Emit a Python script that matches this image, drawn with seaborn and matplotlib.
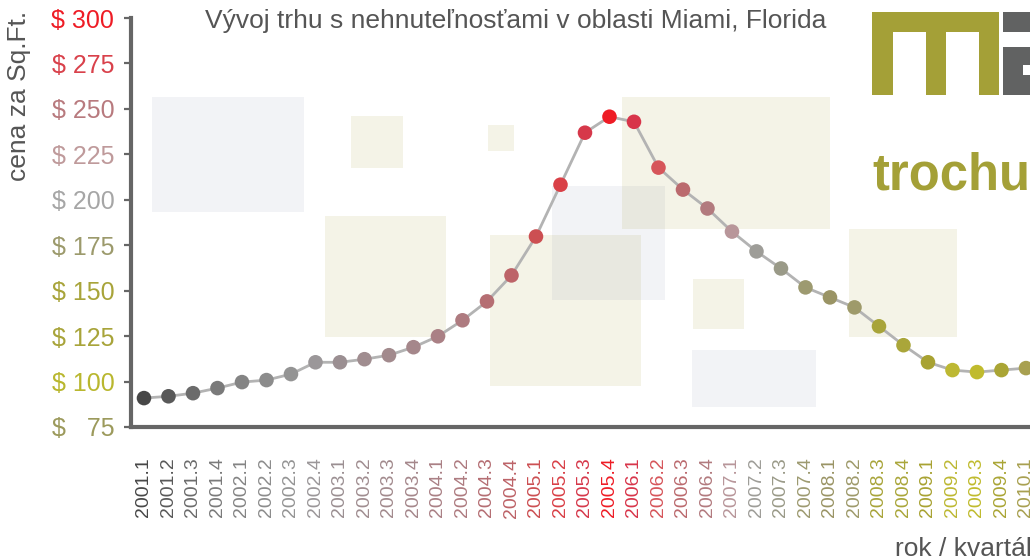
# plot.py
# Miami real estate price per square foot, quarterly 2001-2010, styled like the reference chart.

import numpy as np
import pandas as pd
import matplotlib
matplotlib.use("Agg")
import matplotlib.pyplot as plt
from matplotlib.patches import Rectangle
import seaborn as sns

# Quarter labels on the x axis.
quarters = [
    "2001.1", "2001.2", "2001.3", "2001.4", "2002.1", "2002.2", "2002.3", "2002.4",
    "2003.1", "2003.2", "2003.3", "2003.4", "2004.1", "2004.2", "2004.3", "2004.4",
    "2005.1", "2005.2", "2005.3", "2005.4", "2006.1", "2006.2", "2006.3", "2006.4",
    "2007.1", "2007.2", "2007.3", "2007.4", "2008.1", "2008.2", "2008.3", "2008.4",
    "2009.1", "2009.2", "2009.3", "2009.4", "2010.1",
]

# Price per square foot.
prices = [
    90.9, 91.9, 93.6, 96.4, 99.7, 100.8, 104.1, 110.6,
    110.6, 112.3, 114.5, 118.9, 124.9, 133.7, 144.1, 158.4,
    179.8, 208.3, 236.9, 245.7, 242.9, 217.7, 205.6, 195.2,
    182.5, 171.6, 162.2, 151.8, 146.3, 140.8, 130.4, 120.0,
    110.6, 106.3, 105.2, 106.3, 107.4,
]

# Colour of each point and its quarter label.
point_colors = [
    "#474747", "#595959", "#6b6b6b", "#7a7a7a", "#848484", "#8c8c8c", "#949494", "#9b9799",
    "#9b8f92", "#a08d90", "#a28a8d", "#a5878b", "#aa8085", "#ae7b80", "#b56e73", "#bd6368",
    "#cc4f52", "#d94047", "#d6384a", "#ee1c25", "#d8354a", "#d6555a", "#bb6a6e", "#b27a7e",
    "#b8969a", "#9e9d98", "#9a9a88", "#9d9a70", "#9a9465", "#9e9a6a", "#a8a43a", "#aaa63a",
    "#a8a232", "#bdb833", "#c0bb2e", "#aaa535", "#a8a050",
]

# Y axis ticks, their labels and label colours.
y_ticks = [75, 100, 125, 150, 175, 200, 225, 250, 275, 300]
y_tick_labels = ["$   75", "$ 100", "$ 125", "$ 150", "$ 175",
                 "$ 200", "$ 225", "$ 250", "$ 275", "$ 300"]
y_tick_colors = ["#9c9a5c", "#b9b72f", "#a8a43a", "#a8a43a", "#9c9a6c",
                 "#a6a6a6", "#bf9a9b", "#b87a7e", "#d9414b", "#ee1c25"]

title = "Vývoj trhu s nehnuteľnosťami v oblasti Miami, Florida"
y_label = "cena za Sq.Ft."
x_label = "rok / kvartál"
logo_text = "trochu"

# Build the data frame.
df = pd.DataFrame({"kvartal": quarters, "cena": prices})

# Style.
sns.set_style("white")
plt.rcParams["font.family"] = ["Liberation Sans", "DejaVu Sans"]

W, H = 1030, 556
fig = plt.figure(figsize=(W / 100, H / 100), dpi=100)

# Axes placed in pixel terms (runs a little past the right edge like the original).
ax_left, ax_right, ax_top, ax_bottom = 131, 1040, 18, 427
ax = fig.add_axes([ax_left / W, 1 - ax_bottom / H, (ax_right - ax_left) / W, (ax_bottom - ax_top) / H])
ax.patch.set_alpha(0)


def px_rect(x0, y0, x1, y1, color, alpha=1.0, z=-5):
    # Add a rectangle given in figure pixel coordinates (top-left origin).
    r = Rectangle((x0 / W, 1 - y1 / H), (x1 - x0) / W, (y1 - y0) / H,
                  transform=fig.transFigure, facecolor=color, edgecolor="none",
                  alpha=alpha, zorder=z)
    fig.add_artist(r)


# Decorative background squares.
beige = "#a5a03a"
bluegrey = "#78829f"
px_rect(152, 97, 304, 212, bluegrey, 0.09)
px_rect(325, 216, 446, 337, beige, 0.12)
px_rect(351, 116, 403, 168, beige, 0.12)
px_rect(488, 125, 514, 151, beige, 0.12)
px_rect(490, 235, 641, 386, beige, 0.12)
px_rect(552, 186, 665, 300, bluegrey, 0.09)
px_rect(622, 97, 830, 229, beige, 0.12)
px_rect(693, 279, 744, 329, beige, 0.12)
px_rect(692, 350, 816, 407, bluegrey, 0.09)
px_rect(849, 229, 957, 337, beige, 0.12)

# Logo blocks.
olive = "#a4a037"
grey = "#616262"
px_rect(872, 12, 999, 32, olive)
px_rect(872, 32, 893, 95, olive)
px_rect(926, 32, 946, 95, olive)
px_rect(979, 32, 999, 95, olive)
px_rect(1003, 12, 1031, 32, grey)
px_rect(1003, 47, 1031, 95, grey)
px_rect(1023, 65, 1031, 75, "white")

# Line connecting the points.
sns.lineplot(data=df, x="kvartal", y="cena", sort=False, color="#b3b3b3",
             linewidth=2, ax=ax, zorder=2)

# Coloured points.
sns.scatterplot(data=df, x="kvartal", y="cena", hue="kvartal",
                palette=dict(zip(quarters, point_colors)), s=110,
                edgecolor="none", legend=False, ax=ax, zorder=3)

# Axis limits.
n = len(quarters)
ax.set_xlim(-0.53, -0.53 + (ax_right - ax_left) / 24.5)
ax.set_ylim(75, 300)

# Spines.
for side in ["top", "right"]:
    ax.spines[side].set_visible(False)
for side in ["left", "bottom"]:
    ax.spines[side].set_color("#666666")
    ax.spines[side].set_linewidth(3)

# X ticks: labels at the points, tick marks between quarters.
ax.set_xticks(range(n))
ax.set_xticklabels(quarters, rotation=90, fontsize=14)
ax.set_xticks(np.arange(n) + 0.5, minor=True)
ax.tick_params(axis="x", which="major", length=0, pad=22)
ax.tick_params(axis="x", which="minor", length=7, width=1.6, color="#666666", direction="out")
for lab, col in zip(ax.get_xticklabels(), point_colors):
    lab.set_color(col)

# Y ticks.
ax.set_yticks(y_ticks)
ax.set_yticklabels(y_tick_labels, fontsize=18)
ax.tick_params(axis="y", which="major", length=5, width=1.6, color="#666666",
               direction="out", pad=7, left=True)
for lab, col in zip(ax.get_yticklabels(), y_tick_colors):
    lab.set_color(col)

ax.set_xlabel("")
ax.set_ylabel("")

# Texts.
fig.text(516 / W, 1 - 21 / H, title, ha="center", va="center", fontsize=19, color="#555555")
fig.text(19 / W, 1 - 96 / H, y_label, ha="center", va="center", rotation=90,
         fontsize=19, color="#555555")
fig.text(895 / W, 0.0, x_label, ha="left", va="baseline", fontsize=19, color="#555555")
fig.text(872 / W, 1 - 190 / H, logo_text, ha="left", va="baseline", fontsize=36.5,
         fontweight="bold", color=olive)

fig.savefig("out.png", dpi=100)
plt.close(fig)
